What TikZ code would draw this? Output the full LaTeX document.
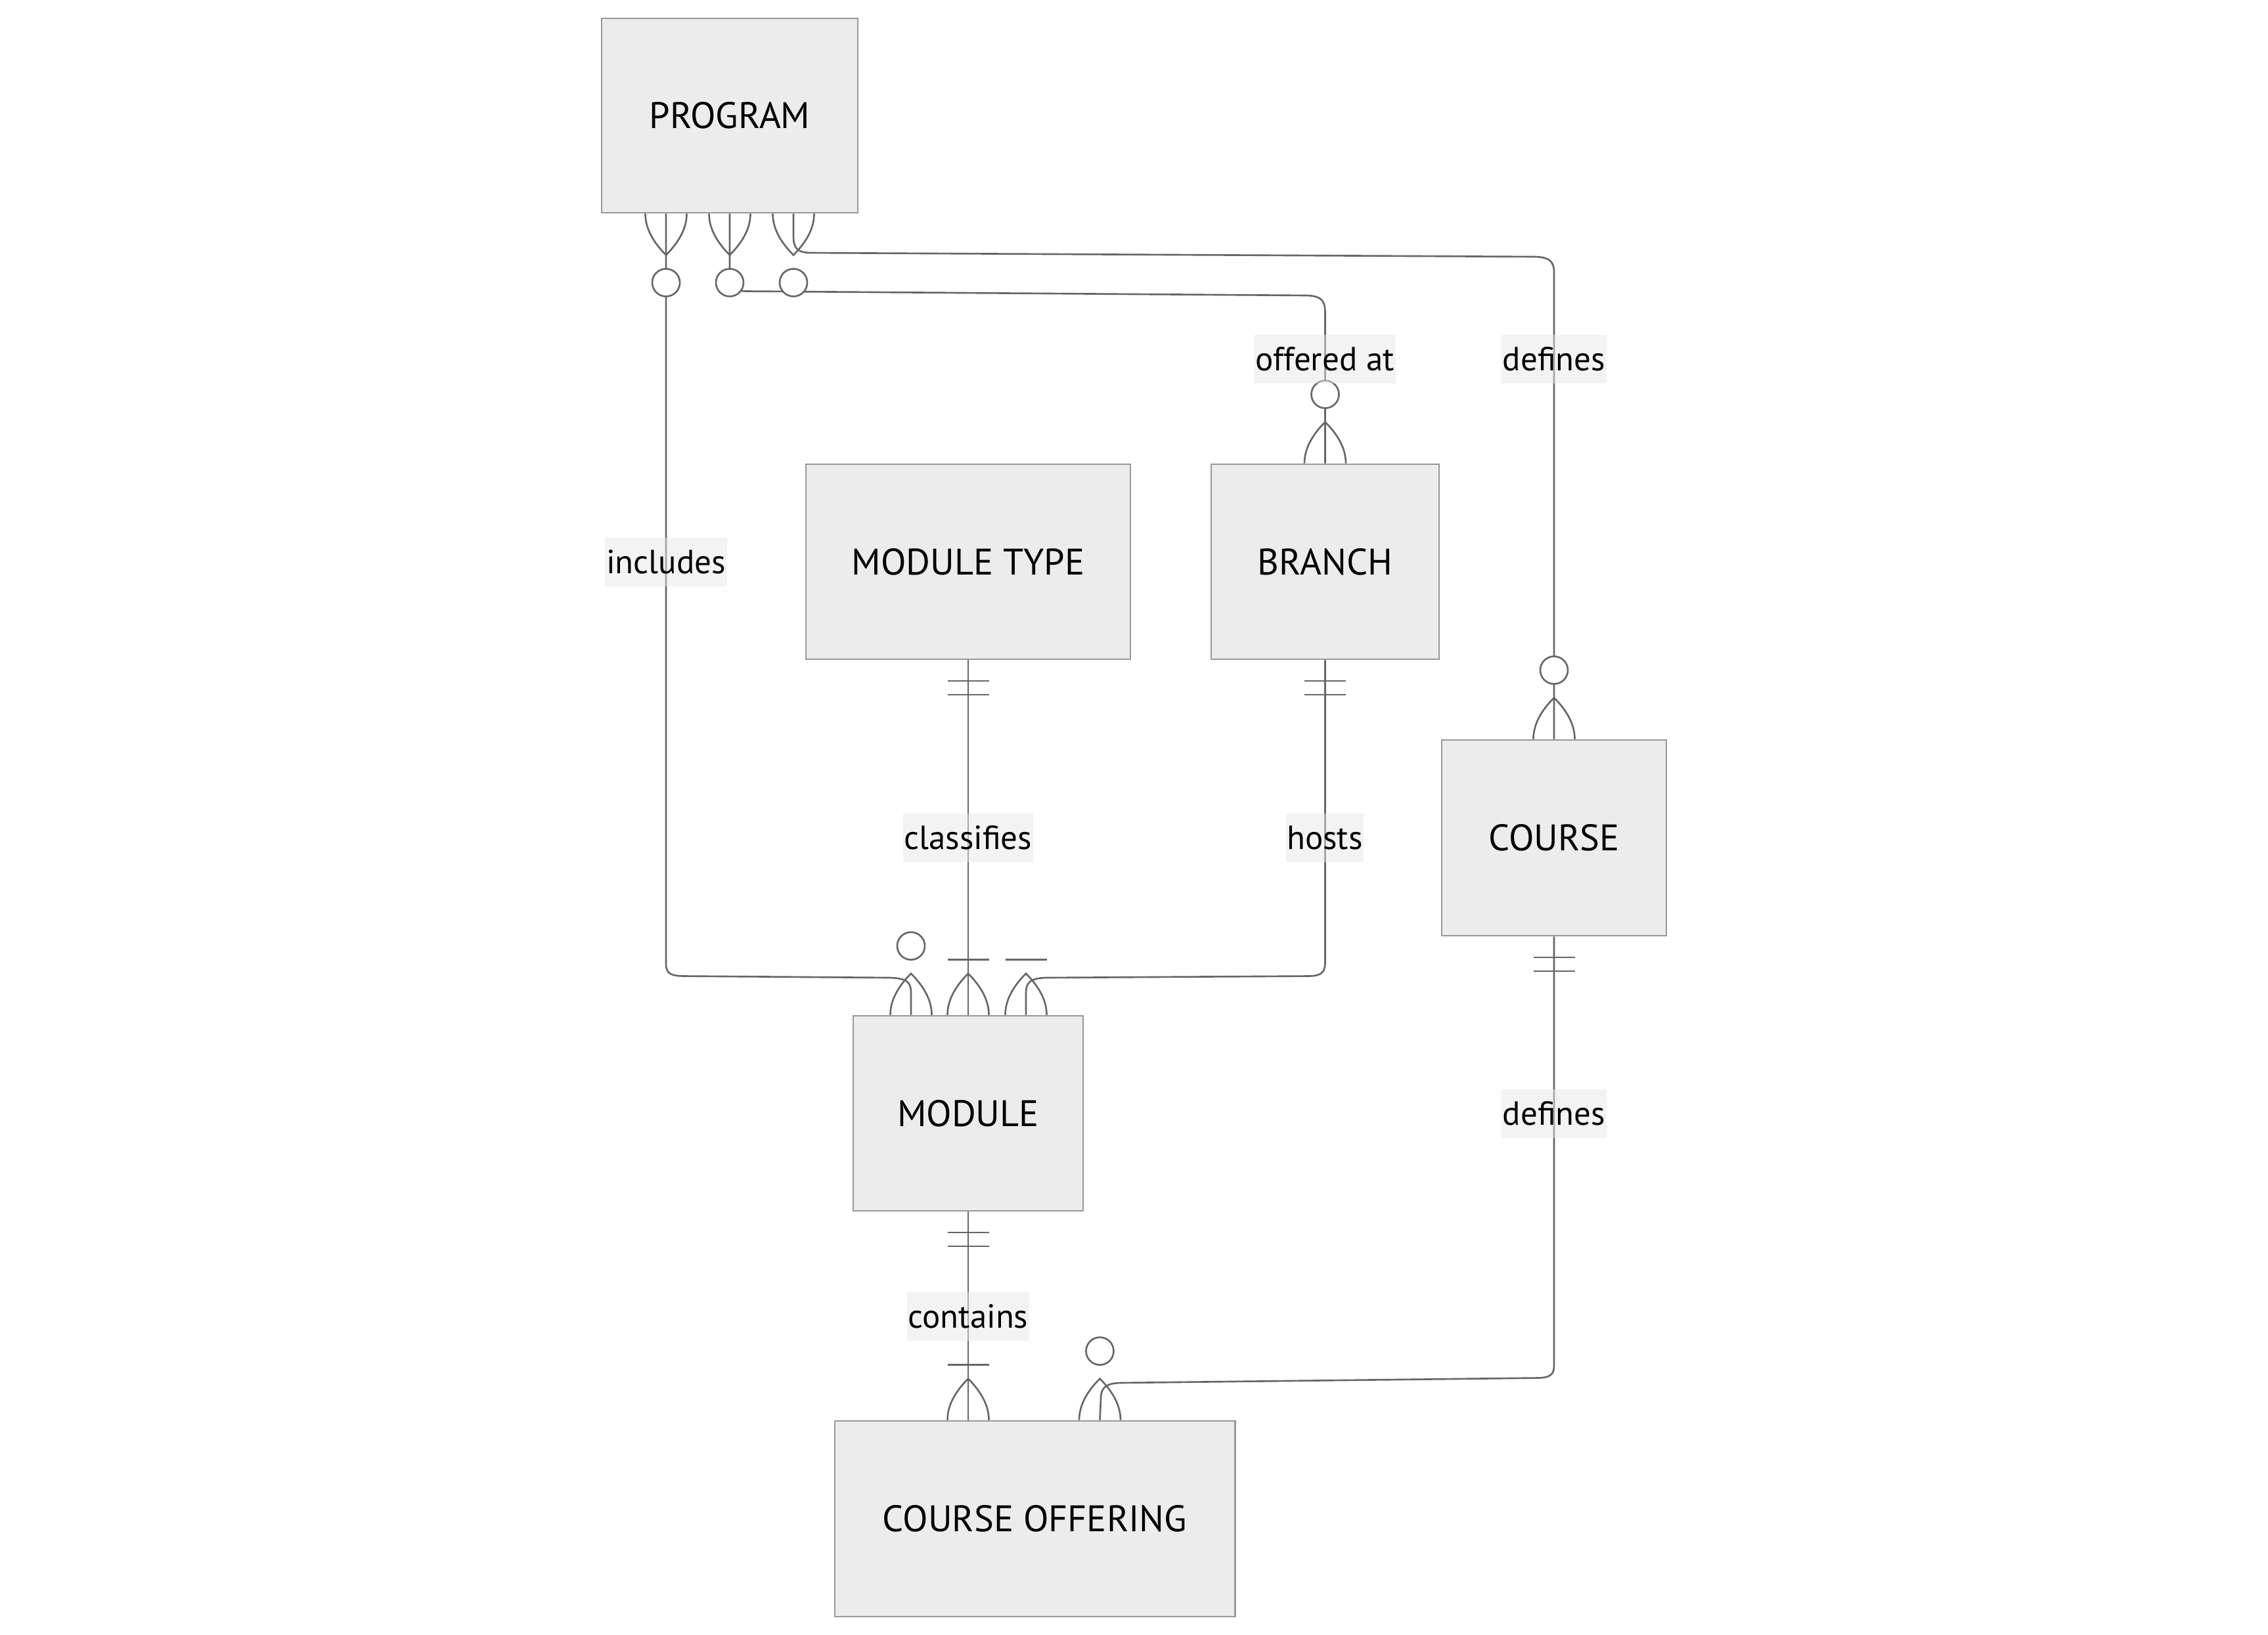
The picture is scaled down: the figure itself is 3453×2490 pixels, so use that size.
\documentclass[tikz,border=0pt]{standalone}
\usepackage{fontspec}
\setmainfont{PT Sans}
\usetikzlibrary{calc}
\definecolor{boxfill}{HTML}{ECECEC}
\definecolor{boxline}{HTML}{999999}
\definecolor{relline}{HTML}{666666}
\definecolor{lblfill}{HTML}{E8E8E8}
\tikzset{
  ent/.style={draw=boxline, fill=boxfill, line width=0.75pt, inner sep=0pt, font=\fontsize{16}{19}\selectfont},
  rel/.style={draw=relline, line width=0.75pt},
  lbl/.style={fill=lblfill, fill opacity=0.5, text opacity=1, inner xsep=0.5pt, inner ysep=0pt, minimum height=0.74cm, text height=13.2pt, text depth=3pt, font=\fontsize{14.5}{17}\selectfont},
  cfoot/.pic={\draw[rel] (-31.5,0) .. controls (-31.5,-21) and (-21,-42) .. (0,-63) .. controls (21,-42) and (31.5,-21) .. (31.5,0);},
  zcirc/.pic={\draw[rel, fill=white] (0,-105) circle[radius=2.1mm];},
  obar/.pic={\draw[rel] (-31.5,-84) -- (31.5,-84);},
  twobar/.pic={\draw[rel] (-31.5,-31.5) -- (31.5,-31.5) (-31.5,-52.5) -- (31.5,-52.5);},
}
\begin{document}
\begin{tikzpicture}[x=0.01cm, y=-0.01cm]
\useasboundingbox (0,0) rectangle (3453,2490);
% entities
\node[ent, minimum width=3.90cm, minimum height=2.96cm] (prog) at (1111,176) {PROGRAM};
\node[ent, minimum width=4.94cm, minimum height=2.97cm] (mtype) at (1474,855.5) {MODULE TYPE};
\node[ent, minimum width=3.47cm, minimum height=2.97cm] (branch) at (2017.5,855.5) {BRANCH};
\node[ent, minimum width=3.42cm, minimum height=2.98cm] (course) at (2366,1276) {COURSE};
\node[ent, minimum width=3.50cm, minimum height=2.97cm] (module) at (1474,1695.5) {MODULE};
\node[ent, minimum width=6.09cm, minimum height=2.98cm] (coff) at (1575.5,2313) {COURSE OFFERING};
% attachment points
\coordinate (p1) at ($(prog.south)+(-97,0)$);
\coordinate (p2) at (prog.south);
\coordinate (p3) at ($(prog.south)+(97,0)$);
\coordinate (m1) at ($(module.north)+(-87,0)$);
\coordinate (m2) at (module.north);
\coordinate (m3) at ($(module.north)+(88,0)$);
\coordinate (c1) at (module.south |- coff.north);
\coordinate (c2) at ($(coff.north west)+(405,0)$);
% relationships
\draw[rel] (p1) -- (1014,1468) .. controls (1014,1483) and (1022,1486) .. (1040,1486.5) -- (1355,1489) .. controls (1380,1490) and (1387,1495) .. (1387,1512) -- (m1);
\draw[rel] (p2) -- (1111,428) .. controls (1111,440) and (1118,443) .. (1136,443.5) -- (1990,450) .. controls (2010,451) and (2017.5,456) .. (2017.5,476) -- (branch.north);
\draw[rel] (p3) -- (1208,360) .. controls (1208,378) and (1214,384) .. (1232,385) -- (2338,391) .. controls (2358,392) and (2366,397) .. (2366,415) -- (course.north);
\draw[rel] (mtype.south) -- (m2);
\draw[rel] (branch.south) -- (2017.5,1466) .. controls (2017.5,1482) and (2010,1486) .. (1994,1486.5) -- (1592,1489) .. controls (1570,1490) and (1562,1495) .. (1562,1512) -- (m3);
\draw[rel] (module.south) -- (c1);
\draw[rel] (course.south) -- (2366,2080) .. controls (2366,2094) and (2359,2098) .. (2342,2098.5) -- (1705,2106) .. controls (1684,2107) and (1676,2113) .. (1676,2130) -- (c2);
% cardinality markers
\pic[yscale=-1] at (p1) {cfoot}; \pic[yscale=-1] at (p1) {zcirc};
\pic[yscale=-1] at (p2) {cfoot}; \pic[yscale=-1] at (p2) {zcirc};
\pic[yscale=-1] at (p3) {cfoot}; \pic[yscale=-1] at (p3) {zcirc};
\pic at (m1) {cfoot}; \pic at (m1) {zcirc};
\pic at (m2) {cfoot}; \pic at (m2) {obar};
\pic at (m3) {cfoot}; \pic at (m3) {obar};
\pic[yscale=-1] at (mtype.south) {twobar};
\pic at (branch.north) {cfoot}; \pic at (branch.north) {zcirc};
\pic[yscale=-1] at (branch.south) {twobar};
\pic at (course.north) {cfoot}; \pic at (course.north) {zcirc};
\pic[yscale=-1] at (course.south) {twobar};
\pic[yscale=-1] at (module.south) {twobar};
\pic at (c1) {cfoot}; \pic at (c1) {obar};
\pic at (c2) {cfoot}; \pic at (c2) {zcirc};
% labels
\node[lbl] (lInc) at (1014,856) {includes};
\node[lbl] (lOff) at (2017,547) {offered at};
\node[lbl] (lDef1) at (2366,547) {defines};
\node[lbl] (lCls) at (1474,1276) {classifies};
\node[lbl] (lHst) at (2017,1276) {hosts};
\node[lbl] (lDef2) at (2366,1696) {defines};
\node[lbl] (lCon) at (1474,2005) {contains};
\end{tikzpicture}
\end{document}
